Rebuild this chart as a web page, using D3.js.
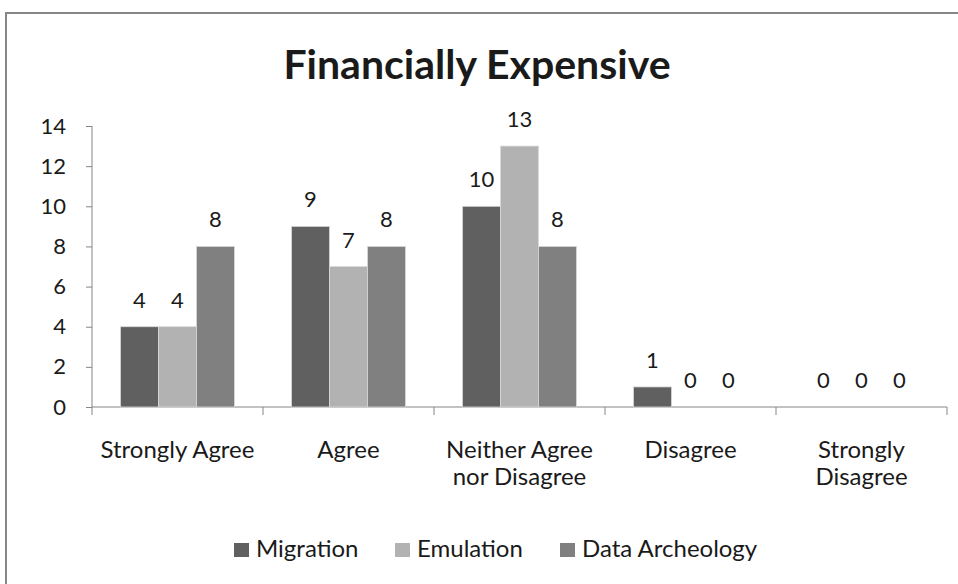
<!DOCTYPE html>
<html><head><meta charset="utf-8">
<script src="https://cdn.jsdelivr.net/npm/d3@7"></script>
<style>body{margin:0;background:#fff}svg text{font-family:Lato,"Open Sans",sans-serif;fill:#1a1a1a}</style>
</head><body><svg id="c" width="958" height="584"></svg>
<script>
const title = "Financially Expensive";
const categories = [["Strongly Agree"],["Agree"],["Neither Agree","nor Disagree"],["Disagree"],["Strongly","Disagree"]];
const seriesNames = ["Migration","Emulation","Data Archeology"];
const migration = [4,9,10,1,0];
const emulation = [4,7,13,0,0];
const dataArcheology = [8,8,8,0,0];
const yTicks = [0,2,4,6,8,10,12,14];
const colors = ["#606060","#b2b2b2","#808080"];
const series = [migration, emulation, dataArcheology];

const svg = d3.select("#c");
svg.append("rect").attr("x",6).attr("y",13).attr("width",1000).attr("height",1000)
  .attr("fill","#fff").attr("stroke","#868686").attr("stroke-width",2);

svg.append("text").attr("x",477).attr("y",79).attr("text-anchor","middle")
  .attr("font-size",41).attr("font-weight","bold").attr("fill","#000").text(title);

const x0 = d3.scaleBand().domain(d3.range(categories.length)).range([92,947]).paddingInner(0).paddingOuter(0);
const x1 = d3.scaleBand().domain(d3.range(series.length)).range([28.5, x0.bandwidth()-28.5]);
const y = d3.scaleLinear().domain([0,14]).range([407,126]);

// y axis
const ya = svg.append("g").attr("transform","translate(92,0)")
  .call(d3.axisLeft(y).tickValues(yTicks).tickSize(6).tickPadding(20));
ya.selectAll("line,path").attr("stroke","#868686");
ya.select(".domain").attr("d","M0,126V407");
ya.selectAll("text").attr("font-size",22).attr("font-family","Lato").attr("fill","#1a1a1a");

// x axis
const xa = svg.append("g").attr("transform","translate(0,407)");
xa.append("line").attr("x1",92).attr("x2",947).attr("stroke","#868686");
xa.selectAll(".tk").data(d3.range(categories.length+1)).join("line")
  .attr("x1",d=>92+d*x0.bandwidth()).attr("x2",d=>92+d*x0.bandwidth())
  .attr("y1",0).attr("y2",8).attr("stroke","#868686");
categories.forEach((lines,i)=>{
  const t = svg.append("text").attr("text-anchor","middle").attr("font-size",24)
    .attr("x",x0(i)+x0.bandwidth()/2).attr("y",458);
  lines.forEach((l,j)=>t.append("tspan").attr("x",x0(i)+x0.bandwidth()/2).attr("dy",j?27:0).text(l));
});

// bars
series.forEach((vals,s)=>{
  const g = svg.append("g");
  g.selectAll("rect").data(vals).join("rect")
    .attr("x",(d,i)=>x0(i)+x1(s)).attr("width",x1.bandwidth())
    .attr("y",d=>y(d)).attr("height",d=>y(0)-y(d)).attr("fill",colors[s])
    .attr("stroke","#d9d9d9").attr("stroke-width",d=>d>0?0.8:0);
  g.selectAll("text").data(vals).join("text")
    .attr("x",(d,i)=>x0(i)+x1(s)+x1.bandwidth()/2).attr("y",d=>y(d)-19)
    .attr("text-anchor","middle").attr("font-size",22).text(d=>d);
});

// legend
const legX = [234,395,560];
seriesNames.forEach((n,i)=>{
  svg.append("rect").attr("x",legX[i]).attr("y",543).attr("width",15).attr("height",14).attr("fill",colors[i]);
  svg.append("text").attr("x",legX[i]+22).attr("y",557).attr("font-size",24).text(n);
});
</script></body></html>
